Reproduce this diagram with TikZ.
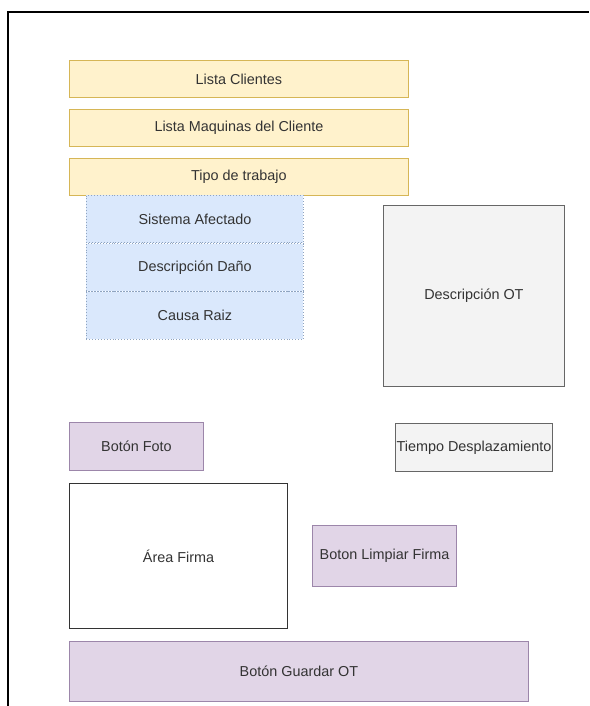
\documentclass[tikz,border=0pt]{standalone}
\usepackage{fontspec}
\setmainfont{Liberation Sans}
\usepackage{tikz}
\usetikzlibrary{positioning}
\definecolor{yfill}{HTML}{FFF2CC}
\definecolor{ydraw}{HTML}{D6B656}
\definecolor{bfill}{HTML}{DAE8FC}
\definecolor{bdraw}{HTML}{8FA4C0}
\definecolor{pfill}{HTML}{E1D5E7}
\definecolor{pdraw}{HTML}{9C86AA}
\definecolor{gfill}{HTML}{F3F3F3}
\definecolor{gdraw}{HTML}{666666}
\definecolor{txt}{HTML}{333333}
\tikzset{
  box/.style={rectangle, inner sep=0pt, align=center, text=txt, font=\fontsize{14.4}{17}\selectfont, line width=0.9pt},
  ybox/.style={box, draw=ydraw, fill=yfill, minimum width=339pt, minimum height=37pt},
  bbox/.style={box, draw=bdraw, fill=bfill, dotted, minimum width=217pt, minimum height=47.3pt},
  pbox/.style={box, draw=pdraw, fill=pfill},
  gbox/.style={box, draw=gdraw, fill=gfill},
  wbox/.style={box, draw=txt, fill=white, line width=1.1pt},
}

\begin{document}
\begin{tikzpicture}[x=1pt, y=-1pt]
\useasboundingbox (0,0) rectangle (589,706);
\draw[line width=1.3pt] (8,706) -- (8,12) -- (589,12);
% lists
\node[ybox, anchor=north west] (clientes) at (69,60) {Lista Clientes};
\node[ybox, below=11pt of clientes] (maquinas) {Lista Maquinas del Cliente};
\node[ybox, below=11pt of maquinas] (tipo) {Tipo de trabajo};
% failure fields
\node[bbox, anchor=north west] (sistema) at (86,195) {Sistema Afectado};
\node[bbox, below=0pt of sistema] (dano) {Descripción Daño};
\node[bbox, below=0pt of dano] (causa) {Causa Raiz};
% right column
\node[gbox, minimum width=181pt, minimum height=181pt, anchor=north west] (descot) at (383,205) {Descripción OT};
\node[gbox, minimum width=157pt, minimum height=48pt, below=36pt of descot] (tiempo) {Tiempo Desplazamiento};
% buttons and signature
\node[pbox, minimum width=134pt, minimum height=48pt, anchor=north west] (foto) at (69,422) {Botón Foto};
\node[wbox, minimum width=218pt, minimum height=145pt, below=12pt of foto.south west, anchor=north west] (firma) {Área Firma};
\node[pbox, minimum width=144pt, minimum height=61pt, right=24pt of firma] (limpiar) {Boton Limpiar Firma};
\node[pbox, minimum width=459pt, minimum height=60pt, below=12pt of firma.south west, anchor=north west] (guardar) {Botón Guardar OT};
\end{tikzpicture}
\end{document}
